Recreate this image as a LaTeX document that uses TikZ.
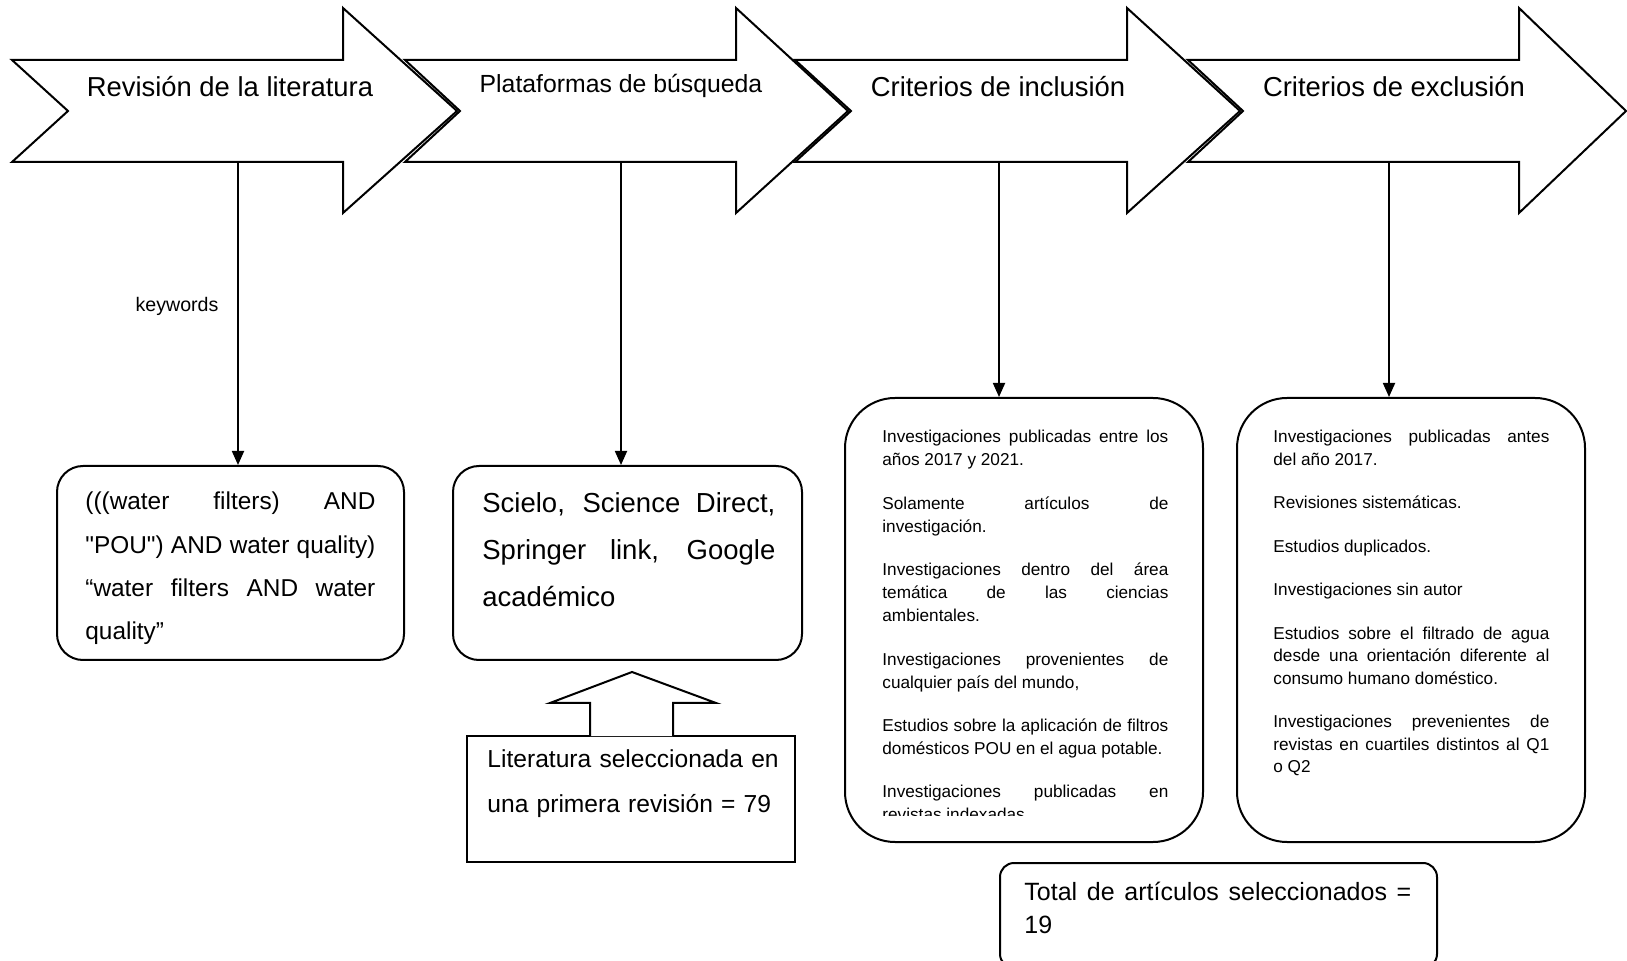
\documentclass[tikz,border=0pt]{standalone}
\usepackage{fontspec}
\setmainfont{Liberation Sans}
\usetikzlibrary{arrows.meta, positioning}
\hyphenpenalty=10000
\exhyphenpenalty=10000

\begin{document}
\begin{tikzpicture}[x=0.5pt, y=-0.5pt,
    chev/.style={draw, fill=white, line width=1pt, line join=miter},
    roundbox/.style={draw, line width=1pt, inner sep=0pt, rounded corners=#1},
    conn/.style={line width=0.9pt, -{Triangle[width=6pt,length=7pt]}},
    title/.style={anchor=base, inner sep=0pt, font=\fontsize{13.7}{16}\selectfont},
    boxtext/.style={anchor=base west, inner sep=0pt, align=justify}]
\useasboundingbox (0,0) rectangle (1627,961);
\clip (0,0) rectangle (1627,961);
%
% the four block arrows
\foreach \l/\n/\h/\t in {12/68/343/457, 405/460/736/848, 795/851/1127/1240, 1188/1243/1519/1626}
  \draw[chev] (\l,60) -- (\h,60) -- (\h,8) -- (\t,111) -- (\h,213) -- (\h,162) -- (\l,162) -- (\n,111) -- cycle;

\node[title] (revision) at (230,97) {Revisión de la literatura};
\node[title, font=\fontsize{12.4}{15}\selectfont] (plataformas) at (621,93) {Plataformas de búsqueda};
\node[title] (inclusion) at (998,97) {Criterios de inclusión};
\node[title] (exclusion) at (1394,97) {Criterios de exclusión};

\coordinate (s1) at (238,162);
\coordinate (s2) at (621,162);
\coordinate (s3) at (999,162);
\coordinate (s4) at (1389,162);

% boxes
\node[roundbox=13pt, minimum width=173.5pt, minimum height=97pt] (kwbox) at (230.5,563) {};
\node[roundbox=13pt, minimum width=174.5pt, minimum height=97pt] (dbbox) at (627.5,563) {};
\node[draw, line width=1pt, inner sep=0pt, minimum width=164pt, minimum height=63pt] (selbox) at (631,799) {};
\node[roundbox=25pt, minimum width=179pt, minimum height=222pt] (incbox) at (1024,620) {};
\node[roundbox=25pt, minimum width=174pt, minimum height=222pt] (excbox) at (1411,620) {};
\node[roundbox=7pt, minimum width=218.5pt, minimum height=52.5pt] (totbox) at (1218.5,915.5) {};

% connectors
\draw[conn] (s1) -- (s1 |- kwbox.north);
\draw[conn] (s2) -- (s2 |- dbbox.north);
\draw[conn] (s3) -- (s3 |- incbox.north);
\draw[conn] (s4) -- (s4 |- excbox.north);
\node[anchor=base, inner sep=0pt, font=\fontsize{9.8}{12}\selectfont] (kw) at (177,312) {keywords};

% up arrow from the selection box
\draw[line width=1pt, fill=white] (590,736) -- (590,703) -- (550,703) -- (632,672)
  -- (716,703) -- (673,703) -- (673,736);

% texts
\node[boxtext, text width=145pt, font=\fontsize{12.2}{21.6}\selectfont] (kwtext) at (85,510)
  {(((water filters) AND\linebreak \textquotedbl POU\textquotedbl) AND water quality)\linebreak “water filters AND water\linebreak quality”};
\node[boxtext, text width=146.5pt, font=\fontsize{13.75}{23.5}\selectfont] (dbtext) at (482,513)
  {Scielo, Science Direct,\linebreak Springer link, Google\linebreak académico};
\node[anchor=base west, inner sep=0pt, text width=150pt, align=left, font=\fontsize{12.3}{22.5}\selectfont] (seltext) at (487,767)
  {Literatura seleccionada en\\ una primera revisión = 79};
\begin{scope}
  \clip (846,398) rectangle (1204,815);
  \node[boxtext, text width=143pt, font=\fontsize{8.6}{11.5}\selectfont] (inctext) at (882,443)
    {Investigaciones publicadas entre los\linebreak años 2017 y 2021.\par\vspace{10.2pt}
     Solamente artículos de\linebreak investigación.\par\vspace{10.2pt}
     Investigaciones dentro del área\linebreak temática de las ciencias\linebreak ambientales.\par\vspace{10.2pt}
     Investigaciones provenientes de\linebreak cualquier país del mundo,\par\vspace{10.2pt}
     Estudios sobre la aplicación de filtros\linebreak domésticos POU en el agua potable.\par\vspace{10.2pt}
     Investigaciones publicadas en\linebreak revistas indexadas.};
\end{scope}
\node[boxtext, text width=138pt, font=\fontsize{8.6}{11.3}\selectfont] (exctext) at (1273,443)
  {Investigaciones publicadas antes\linebreak del año 2017.\par\vspace{10.4pt}
   Revisiones sistemáticas.\par\vspace{10.4pt}
   Estudios duplicados.\par\vspace{10.4pt}
   Investigaciones sin autor\par\vspace{10.4pt}
   Estudios sobre el filtrado de agua\linebreak desde una orientación diferente al\linebreak consumo humano doméstico.\par\vspace{10.4pt}
   Investigaciones prevenientes de\linebreak revistas en cuartiles distintos al Q1\linebreak o Q2};
\node[boxtext, text width=193.5pt, font=\fontsize{12.5}{16.8}\selectfont] (tottext) at (1024,900)
  {Total de artículos seleccionados =\linebreak 19};
%
\end{tikzpicture}
\end{document}
